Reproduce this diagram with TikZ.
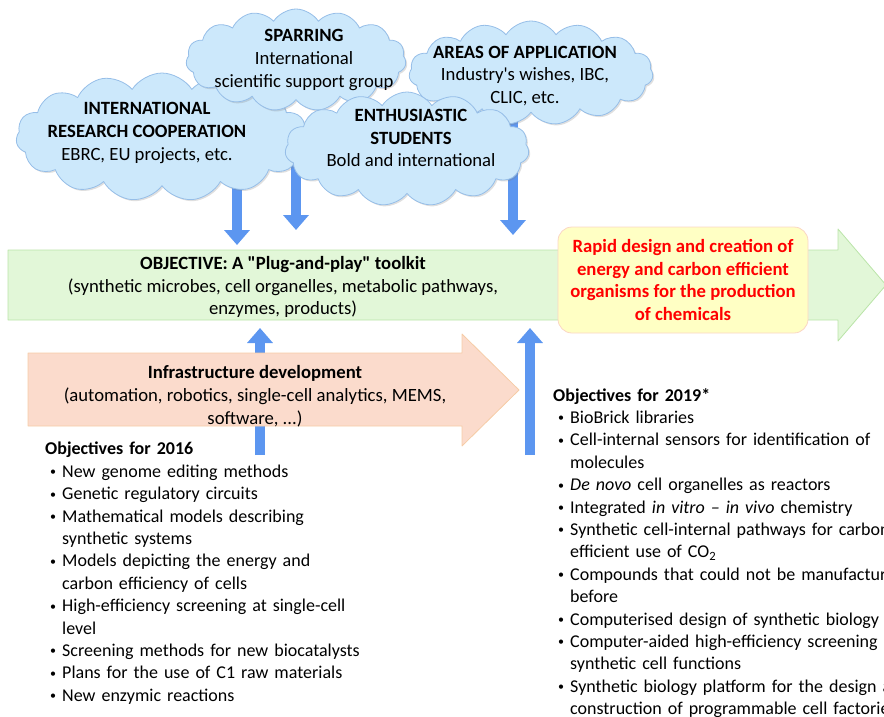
\documentclass[tikz,border=0pt]{standalone}
\usepackage{fontspec}
\setmainfont{Carlito}
\newfontfamily\quotefont{Carlito}
\usepackage{enumitem}
\usepackage{tikz}
\usetikzlibrary{arrows.meta}
\usetikzlibrary{shapes.symbols}
\usetikzlibrary{shadows}
\usetikzlibrary{backgrounds}
\definecolor{cloudfill}{RGB}{204,232,251}
\definecolor{cloudline}{RGB}{150,190,232}
\definecolor{flowblue}{RGB}{92,150,240}
\definecolor{plugfill}{RGB}{226,247,216}
\definecolor{plugline}{RGB}{186,228,168}
\definecolor{infrafill}{RGB}{251,219,204}
\definecolor{infraline}{RGB}{246,204,166}
\definecolor{goalfill}{RGB}{255,255,196}
\definecolor{goalline}{RGB}{250,214,196}
\setlist[itemize]{label={\raisebox{1.5pt}{\fontsize{12}{12}\selectfont\textbullet}},leftmargin=17pt,labelwidth=7pt,labelsep=5pt,align=left,itemsep=0pt,topsep=0pt,parsep=0pt,partopsep=0pt}
\newcommand{\bigtext}{\fontsize{18.7}{22.8}\selectfont}
\newcommand{\dq}{{\quotefont\char34}}
\newcommand{\sq}{{\quotefont\char39}}
\tikzset{
  cloudbox/.style={cloud,cloud puffs=15,cloud puff arc=115,cloud ignores aspect,draw=cloudline,fill=cloudfill,line width=0.8pt,inner sep=0pt,drop shadow={opacity=0.25,shadow xshift=1.5pt,shadow yshift=-1.5pt}},
  cloudtext/.style={align=center,inner sep=0pt,font=\bigtext},
  flow/.style={draw=flowblue,line width=10pt,line cap=butt,-{Triangle[width=25pt,length=15pt]}},
  bigarrow/.style={line width=0.8pt},
  listbox/.style={align=left,inner sep=0pt,text width=#1}
}
\begin{document}
\begin{tikzpicture}[line cap=round,line join=round,x=1pt,y=-1pt,font=\fontsize{18}{22.4}\selectfont]
\useasboundingbox (0,0) rectangle (884,716);
\clip (0,0) rectangle (884,716);
% big arrows
\draw[bigarrow,draw=plugline,fill=plugfill] (8,250) -- (838,250) -- (838,229) -- (886,285) -- (838,341) -- (838,320) -- (8,320) -- cycle;
\draw[bigarrow,draw=infraline,fill=infrafill] (28,353) -- (462,353) -- (462,334) -- (519,390) -- (462,446) -- (462,426) -- (28,426) -- cycle;
\node[align=center,font=\bigtext] (plug) at (283,287) {\textbf{OBJECTIVE: A \dq Plug-and-play\dq{} toolkit}\\(synthetic microbes, cell organelles, metabolic pathways,\\enzymes, products)};
\node[align=center,font=\bigtext] (infra) at (255,396) {\textbf{Infrastructure development}\\(automation, robotics, single-cell analytics, MEMS,\\software, ...)};
\node[draw=goalline,fill=goalfill,line width=0.8pt,rounded corners=14pt,minimum width=250pt,minimum height=106pt,align=center,text=red,font=\bigtext] (goal) at (683,280) {\textbf{Rapid design and creation of}\\\textbf{energy and carbon efficient}\\\textbf{organisms for the production}\\\textbf{of chemicals}};
% clouds
\node[cloudbox,minimum width=292pt,minimum height=128pt] (intl) at (162,137) {};
\node[cloudtext] (intlT) at (147,133) {\textbf{INTERNATIONAL}\\\textbf{RESEARCH COOPERATION}\\EBRC, EU projects, etc.};
\node[cloudbox,minimum width=244pt,minimum height=104pt] (area) at (531,73) {};
\node[cloudtext] (areaT) at (525,76) {\textbf{AREAS OF APPLICATION}\\Industry\sq s wishes, IBC,\\CLIC, etc.};
\node[cloudbox,minimum width=220pt,minimum height=102pt] (spar) at (296,60) {};
\node[cloudtext] (sparT) at (304,60) {\textbf{SPARRING}\\International\\scientific support group};
\node[cloudbox,minimum width=244pt,minimum height=114pt] (enth) at (407,149) {};
\node[cloudtext] (enthT) at (411,138) {\textbf{ENTHUSIASTIC}\\\textbf{STUDENTS}\\Bold and international};
% blue arrows
\coordinate (tipI) at (237,245);
\coordinate (tipS) at (296,230);
\coordinate (tipA) at (513,235);
\coordinate (tipP) at (260,328);
\coordinate (tipR) at (530,328);
\coordinate (footP) at (260,455);
\coordinate (footR) at (530,455);
\begin{scope}[on background layer]
\draw[flow] (intl.center -| tipI) -- (tipI);
\draw[flow] (intl.center -| tipS) -- (tipS);
\draw[flow] (area.center -| tipA) -- (tipA);
\draw[flow] (footP) -- (tipP);
\draw[flow] (footR) -- (tipR);
\end{scope}
% objectives
\node[listbox=420pt,anchor=north west] (obj16) at (45,442) {\textbf{Objectives for 2016}
\begin{itemize}
\item New genome editing methods
\item Genetic regulatory circuits
\item Mathematical models describing\\synthetic systems
\item Models depicting the energy and\\carbon efficiency of cells
\item High-efficiency screening at single-cell\\level
\item Screening methods for new biocatalysts
\item Plans for the use of C1 raw materials
\item New enzymic reactions
\end{itemize}};
\node[listbox=480pt,anchor=north west] (obj19) at (553,388) {\textbf{Objectives for 2019*}
\begin{itemize}
\item BioBrick libraries
\item Cell-internal sensors for identification of\\molecules
\item \textit{De novo} cell organelles as reactors
\item Integrated \textit{in vitro – in vivo} chemistry
\item Synthetic cell-internal pathways for carbon\\efficient use of CO\textsubscript{2}
\item Compounds that could not be manufactured\\before
\item Computerised design of synthetic biology
\item Computer-aided high-efficiency screening of\\synthetic cell functions
\item Synthetic biology platform for the design and\\construction of programmable cell factories
\end{itemize}};
\end{tikzpicture}
\end{document}
